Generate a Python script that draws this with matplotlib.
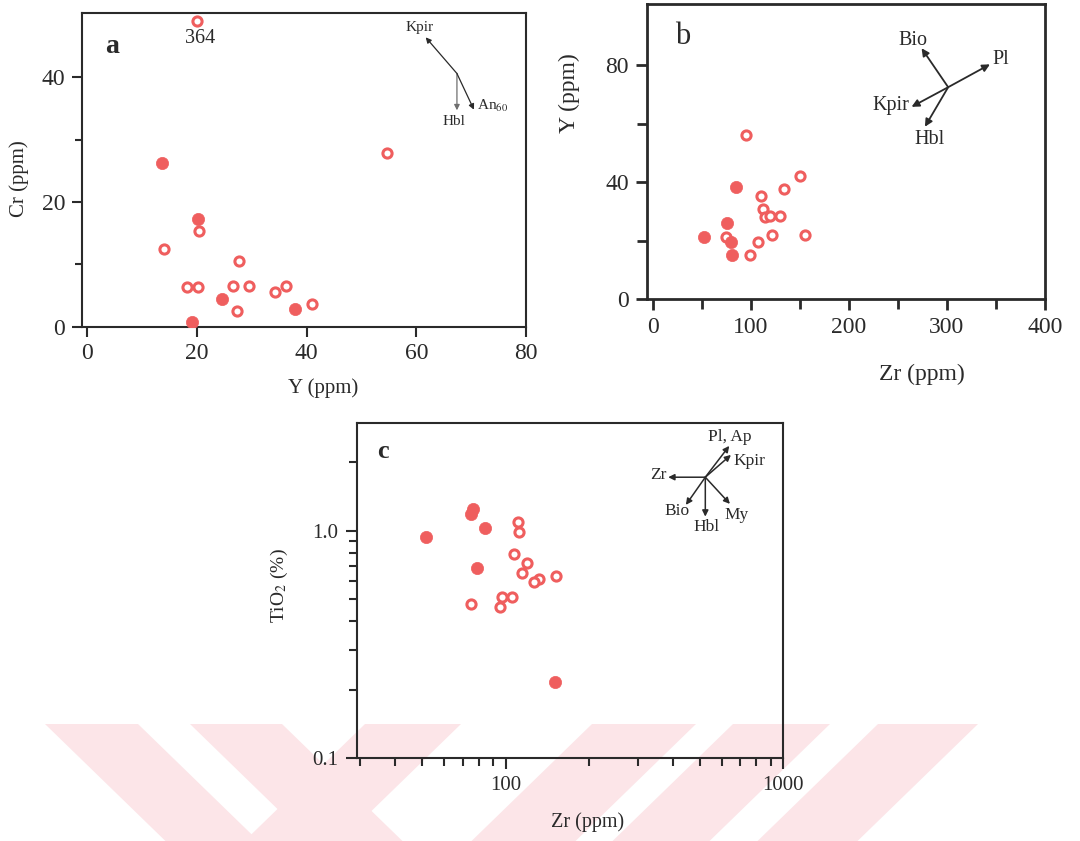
import matplotlib
matplotlib.use('Agg')
import matplotlib.pyplot as plt
from matplotlib.patches import Polygon
from matplotlib.ticker import FixedLocator, NullFormatter, FixedFormatter, LogLocator

plt.rcParams['font.family'] = ['Liberation Serif', 'DejaVu Serif']
plt.rcParams['mathtext.fontset'] = 'stix'

# --- a: Cr vs Y ---
a_open_y = [20.0, 54.7, 20.3, 13.9, 27.6, 18.1, 20.1, 26.5, 29.5, 34.3, 36.2, 40.9, 27.3]
a_open_cr = [49.0, 27.9, 15.4, 12.4, 10.6, 6.4, 6.4, 6.6, 6.6, 5.6, 6.6, 3.7, 2.5]
a_fill_y = [13.6, 20.1, 24.5, 37.9, 19.0]
a_fill_cr = [26.3, 17.3, 4.5, 2.8, 0.8]
a_origin = (67.4, 40.6)
a_vec_names = ['Kpir', 'Hbl', 'An$_{60}$']
a_vec_tips = [(61.7, 46.4), (67.4, 34.7), (70.5, 34.8)]

# --- b: Y vs Zr ---
b_open_zr = [95.6, 110.2, 150.7, 133.7, 112.6, 114.3, 119.4, 130.3, 74.5, 121.7, 155.8, 107.1, 99.7]
b_open_y = [56.1, 35.3, 42.1, 37.5, 30.8, 28.0, 28.5, 28.5, 21.2, 21.9, 21.9, 19.5, 15.1]
b_fill_zr = [85.4, 76.2, 52.0, 80.3, 80.9]
b_fill_y = [38.4, 25.9, 21.2, 19.5, 15.1]
b_origin = (301.3, 72.4)
b_vec_names = ['Bio', 'Pl', 'Kpir', 'Hbl']
b_vec_tips = [(274.2, 85.7), (343.9, 80.2), (264.0, 65.7), (277.6, 58.9)]

# --- c: TiO2 vs Zr (log-log) ---
c_open_zr = [110.4, 111.7, 107.1, 119.3, 114.5, 132.1, 126.5, 152.1, 74.8, 97.2, 105.1, 95.4]
c_open_ti = [1.089, 0.990, 0.793, 0.721, 0.652, 0.615, 0.595, 0.633, 0.478, 0.513, 0.513, 0.462]
c_fill_zr = [51.5, 76.4, 75.2, 84.4, 79.0, 150.9]
c_fill_ti = [0.941, 1.241, 1.184, 1.024, 0.684, 0.217]
c_origin = (523.8, 1.716)
c_vec_names = ['Pl, Ap', 'Kpir', 'Zr', 'Bio', 'Hbl', 'My']
c_vec_tips = [(638.8, 2.355), (647.8, 2.150), (385.1, 1.716), (445.9, 1.297),
              (523.8, 1.152), (642.4, 1.310)]

RED = '#EF5E5E'
INK = '#2a2a2a'
W, H = 1080, 841


def box(left, top, right, bottom):
    return [left / W, 1 - bottom / H, (right - left) / W, (bottom - top) / H]


def scatter(ax, xo, yo, xf, yf):
    ax.plot(xo, yo, 'o', ms=6.6, mfc='white', mec=RED, mew=2.2, ls='none', zorder=3)
    ax.plot(xf, yf, 'o', ms=8.8, mfc=RED, mec=RED, mew=0.5, ls='none', zorder=3)


def style(ax, lw, fs, major_len, minor_len, pad):
    for s in ax.spines.values():
        s.set_linewidth(lw)
        s.set_color(INK)
    ax.set_facecolor('none')
    ax.tick_params(which='major', direction='out', length=major_len, width=lw,
                   color=INK, labelsize=fs, pad=pad, labelcolor=INK)
    ax.tick_params(which='minor', direction='out', length=minor_len, width=lw,
                   color=INK)


def vectors(ax, origin, tips, colors, scale, lw=1.0):
    for tip, col in zip(tips, colors):
        ax.annotate('', xy=tip, xytext=origin,
                    arrowprops=dict(arrowstyle='-|>', color=col, lw=lw,
                                    mutation_scale=scale, shrinkA=0, shrinkB=0))


fig = plt.figure(figsize=(10.8, 8.41), dpi=100)

# pale diagonal band along the bottom of the page
for x0, x1, d in [(45, 138, 1), (190, 282, 1), (365, 461, -1),
                  (592, 696, -1), (733, 830, -1), (878, 978, -1)]:
    top, bot, shift = 724, 860, 140 * d
    pts = [(x0 / W, 1 - top / H), (x1 / W, 1 - top / H),
           ((x1 + shift) / W, 1 - bot / H), ((x0 + shift) / W, 1 - bot / H)]
    fig.add_artist(Polygon(pts, closed=True, transform=fig.transFigure,
                           facecolor='#FCE5E8', edgecolor='none', zorder=-5))

# ---------------- panel a ----------------
ax = fig.add_axes(box(82, 13, 526, 326.7))
scatter(ax, a_open_y, a_open_cr, a_fill_y, a_fill_cr)
ax.set_xlim(-1, 80)
ax.set_ylim(0, 50.3)
ax.xaxis.set_major_locator(FixedLocator([0, 20, 40, 60, 80]))
ax.yaxis.set_major_locator(FixedLocator([0, 20, 40]))
ax.yaxis.set_minor_locator(FixedLocator([10, 30]))
style(ax, 1.5, 17, 7, 5, 5)
ax.set_xlabel('Y (ppm)', fontsize=15, va='center', color=INK)
ax.xaxis.set_label_coords(0.543, -0.195)
ax.set_ylabel('Cr (ppm)', fontsize=15, va='center', color=INK)
ax.yaxis.set_label_coords(-0.142, 0.471)
ax.text(4.4, 44.9, 'a', fontsize=20, fontweight='bold', ha='center', va='center', color=INK)
ax.text(20.5, 46.2, '364', fontsize=14.5, ha='center', va='center', color=INK)
vectors(ax, a_origin, a_vec_tips, [INK, '#6f6f6f', INK], 8, lw=0.9)
ax.text(60.5, 48.0, a_vec_names[0], fontsize=11, ha='center', va='center', color=INK)
ax.text(66.8, 32.9, a_vec_names[1], fontsize=11, ha='center', va='center', color=INK)
ax.text(71.1, 35.4, a_vec_names[2], fontsize=11, ha='left', va='center', color=INK)

# ---------------- panel b ----------------
ax = fig.add_axes(box(646.7, 4, 1045, 299.3))
scatter(ax, b_open_zr, b_open_y, b_fill_zr, b_fill_y)
ax.set_xlim(-6, 400)
ax.set_ylim(0, 100.8)
ax.xaxis.set_major_locator(FixedLocator([0, 100, 200, 300, 400]))
ax.xaxis.set_minor_locator(FixedLocator([50, 150, 250, 350]))
ax.yaxis.set_major_locator(FixedLocator([0, 40, 80]))
ax.yaxis.set_minor_locator(FixedLocator([20, 60]))
style(ax, 2.0, 17, 8, 7, 5)
ax.set_xlabel('Zr (ppm)', fontsize=17, va='center', color=INK)
ax.xaxis.set_label_coords(0.691, -0.256)
ax.set_ylabel('Y (ppm)', fontsize=17, va='center', color=INK)
ax.yaxis.set_label_coords(-0.195, 0.699)
ax.text(30.9, 89.6, 'b', fontsize=22, ha='center', va='center', color=INK)
vectors(ax, b_origin, b_vec_tips, [INK] * 4, 11, lw=1.3)
ax.text(265.0, 88.5, b_vec_names[0], fontsize=14.5, ha='center', va='center', color=INK)
ax.text(346.0, 81.7, b_vec_names[1], fontsize=14.5, ha='left', va='center', color=INK)
ax.text(262.0, 66.0, b_vec_names[2], fontsize=14.5, ha='right', va='center', color=INK)
ax.text(282.7, 54.4, b_vec_names[3], fontsize=14.5, ha='center', va='center', color=INK)

# ---------------- panel c ----------------
ax = fig.add_axes(box(356.7, 423.3, 783.3, 758.3))
scatter(ax, c_open_zr, c_open_ti, c_fill_zr, c_fill_ti)
ax.set_xscale('log')
ax.set_yscale('log')
ax.set_xlim(29.1, 1000)
ax.set_ylim(0.1, 2.96)
ax.xaxis.set_major_locator(FixedLocator([100, 1000]))
ax.xaxis.set_major_formatter(FixedFormatter(['100', '1000']))
ax.xaxis.set_minor_locator(LogLocator(base=10, subs=range(2, 10)))
ax.xaxis.set_minor_formatter(NullFormatter())
ax.yaxis.set_major_locator(FixedLocator([0.1, 1.0]))
ax.yaxis.set_major_formatter(FixedFormatter(['0.1', '1.0']))
ax.yaxis.set_minor_locator(LogLocator(base=10, subs=range(2, 10)))
ax.yaxis.set_minor_formatter(NullFormatter())
style(ax, 1.5, 15, 8, 6, 5)
ax.set_xlabel('Zr (ppm)', fontsize=14.5, va='center', color=INK)
ax.xaxis.set_label_coords(0.542, -0.190)
ax.set_ylabel('TiO$_2$ (%)', fontsize=14, va='center', color=INK)
ax.yaxis.set_label_coords(-0.180, 0.517)
ax.text(36.3, 2.22, 'c', fontsize=19, fontweight='bold', ha='center', va='center', color=INK)
vectors(ax, c_origin, c_vec_tips, [INK] * 6, 9, lw=1.1)
ax.text(642.0, 2.57, c_vec_names[0], fontsize=12.5, ha='center', va='center', color=INK)
ax.text(660.0, 2.03, c_vec_names[1], fontsize=12.5, ha='left', va='center', color=INK)
ax.text(380.0, 1.75, c_vec_names[2], fontsize=12.5, ha='right', va='center', color=INK)
ax.text(412.9, 1.224, c_vec_names[3], fontsize=12.5, ha='center', va='center', color=INK)
ax.text(529.6, 1.041, c_vec_names[4], fontsize=12.5, ha='center', va='center', color=INK)
ax.text(678.9, 1.172, c_vec_names[5], fontsize=12.5, ha='center', va='center', color=INK)

fig.savefig('out.png', dpi=100, facecolor='white')
